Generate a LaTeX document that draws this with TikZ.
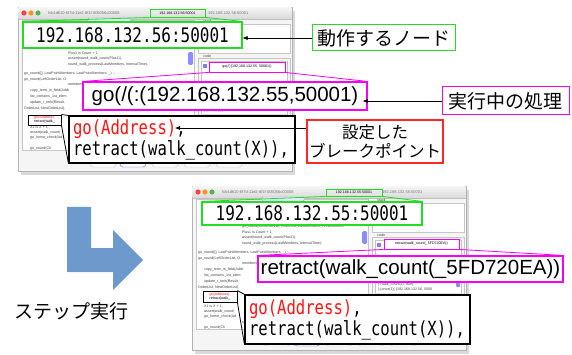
\documentclass[tikz,border=0pt]{standalone}
\usepackage{fontspec}
\usetikzlibrary{arrows.meta}
\newfontfamily\jpfont{Noto Sans CJK JP}
\newfontfamily\codefont[FakeStretch=0.8]{DejaVu Sans Mono}
\newfontfamily\guifont{Liberation Sans}
\definecolor{hlgreen}{RGB}{34,221,34}
\definecolor{hlmagenta}{RGB}{245,0,245}
\definecolor{hlred}{RGB}{255,40,40}
\definecolor{codered}{RGB}{255,20,20}
\definecolor{steparrow}{RGB}{110,153,204}

\tikzset{
  tinytitle/.style={anchor=west, inner sep=0pt, text=black!55, font=\guifont\fontsize{4}{4}\selectfont},
  tinycode/.style={anchor=west, inner sep=0pt, text=black!75, font=\guifont\fontsize{3.6}{4.2}\selectfont},
  smallhl/.style={line width=0.9pt, inner sep=0pt, font=\guifont\fontsize{3.6}{4}\selectfont},
  bigcode/.style={fill=white, line width=1.1pt, inner sep=1pt, font=\codefont\fontsize{20}{21}\selectfont},
  bigsans/.style={fill=white, draw=hlmagenta, line width=1.1pt, inner sep=1pt, font=\guifont\fontsize{20.5}{21}\selectfont},
  jplabel/.style={fill=white, line width=1pt, inner sep=1pt, font=\jpfont\fontsize{19}{22}\selectfont},
  pointer/.style={-{Latex[length=5pt,width=4pt]}, line width=0.6pt},
}

% one screen of the debugger window, #1 shift, #2 uuid, #3 address
\newcommand{\appwindow}[3]{%
\begin{scope}[shift={#1}]
  \fill[black, opacity=0.15] (3,4) rectangle (277,168);
  \draw[gray!60, fill=gray!8] (0,0) rectangle (274,164);
  \shade[top color=gray!8, bottom color=gray!30] (0.5,0.5) rectangle (273.5,12);
  \draw[gray!50] (0,12) -- (274,12);
  \fill[red!75] (6,6) circle (2.6pt);
  \fill[orange!85] (13,6) circle (2.6pt);
  \fill[green!60!black!70] (20,6) circle (2.6pt);
  \node[tinytitle] at (30,6) {#2};
  \node[tinytitle] at (190,6) {#3};
  % program list
  \draw[gray!45, fill=white] (4,13) rectangle (176,143);
  \draw[blue!40, fill=blue!8, rounded corners=1pt] (70,11) rectangle (112,15);
  \fill[blue!45, rounded corners=1.5pt] (170,45) rectangle (175,58);
  \foreach \tx/\ty/\codeline in {
      50/41/{go\_round(LeftOrderList, OrderList, LastMembers, PreviousMem},
      50/46/{Plus1 is Count + 1,},
      50/52/{assert(round\_walk\_count(Plus1)),},
      50/58/{round\_walk\_process(LastMembers, IntervalTime).},
      6/67/{go\_round([], LastPointMembers, LastPointMembers, \_) :-},
      6/73/{go\_round(LeftOrderList, O},
      50/78/{members\_list(M},
      12/84/{copy\_term\_in\_field(Addr},
      12/90/{list\_contains\_1st\_elem},
      12/96/{update\_r\_terb(Result,},
      6/102/{OrderList, NewOrderList),},
      12/120/{X1 is X + 1,},
      12/126/{assert(walk\_count(},
      12/131/{go\_home\_check(Ad},
      50/137/{sleep},
      12/142/{go\_round(Ch}}
    \node[tinycode] at (\tx,\ty) {\codeline};
  % stack and code panes
  \node[tinycode] at (185,14) {stack};
  \draw[gray!45, fill=white] (180,17) rectangle (272,46);
  \node[tinycode] at (185,49) {code};
  \draw[gray!45] (180,51) rectangle (272,118);
  \draw[gray!45, fill=white] (183,54) rectangle (269,92);
  \fill[blue!50] (185,57) rectangle (189,61);
  \draw[gray!45, fill=white] (183,94) rectangle (269,110);
  \node[tinycode] at (186,99) {|-(walk\_count(1), true),};
  \node[tinycode] at (186,104) {|-(once(1)(:(192.168.132.56, 5000};
  \fill[blue!45, rounded corners=1pt] (264,95) rectangle (268,101);
  \fill[gray!25] (183,107) rectangle (269,110);
  % buttons
  \foreach \bx in {72,102,134,166,198}
    \draw[gray!50, fill=white, rounded corners=3pt] (\bx,150) rectangle ++(26,10);
  \draw[blue!50, rounded corners=3pt] (102,150) rectangle ++(26,10);
\end{scope}}

\begin{document}
\begin{tikzpicture}[x=1pt, y=-1pt]
\useasboundingbox (0,0) rectangle (572,355);

\appwindow{(18,7)}{fcb1d610-6f7d-11e2-8f1f-005056c00008}{192.168.132.56:50001}
\appwindow{(192,186)}{fcb1d610-6f7d-11e2-8f1f-005056c00008}{192.168.132.55:50001}

% the step arrow
\fill[steparrow] (67,207) -- (91,207) -- (91,248) -- (113,248) -- (113,230)
  -- (143,260) -- (113,290) -- (113,272) -- (67,272) -- cycle;
\node[font=\jpfont\fontsize{19}{22}\selectfont] (steplbl) at (71,311) {ステップ実行};

% first screen: highlighted parts
\node[smallhl, draw=hlgreen, minimum width=55, minimum height=8] (addr1) at (177.5,13) {192.168.132.56:50001};
\node[smallhl, draw=hlmagenta, fill=white, minimum width=76, minimum height=10] (code1) at (247,67) {go(/(:(192.168.132.55, 50001))};
\node[smallhl, draw=black, fill=white, minimum width=33, minimum height=10, align=left] (brk1) at (44.5,120)
  {\textcolor{codered}{go(Address),}\\retract(walk\_};

\node[bigcode, draw=hlgreen, minimum width=219, minimum height=26] (node1) at (132.5,35) {192.168.132.56:50001};
\node[bigsans, minimum width=284, minimum height=28] (proc1) at (225,96) {go(/(:(192.168.132.55,50001)};
\node[bigcode, draw=black, minimum width=226, minimum height=47, text width=218, align=left,
  font=\codefont\fontsize{19.5}{21}\selectfont] (bp1) at (182,139.5)
  {\textcolor{codered}{go(Address)},\\retract(walk\_count(X)),};

\draw[hlgreen, line width=0.8pt] (addr1.south west) -- (node1.north west)
  (addr1.south east) -- (node1.north east);
\draw[hlmagenta, line width=0.8pt] (code1.south west) -- (proc1.north west)
  (code1.south east) -- (proc1.north east);
\draw[line width=0.8pt] (brk1.north east) -- (bp1.north west)
  (brk1.south east) -- (bp1.south west);

% second screen: highlighted parts
\node[smallhl, draw=hlgreen, minimum width=56, minimum height=7] (addr2) at (354,192.5) {192.168.132.55:50001};
\node[smallhl, draw=hlmagenta, fill=white, minimum width=75, minimum height=10] (code2) at (421.5,244) {retract(walk\_count(\_5FD720EA))};
\node[smallhl, draw=black, fill=white, minimum width=34, minimum height=11, align=left] (brk2) at (220,296.5)
  {\textcolor{codered}{go(Address),}\\retract(walk\_};

\node[bigcode, draw=hlgreen, minimum width=220, minimum height=23] (node2) at (312,213.5) {192.168.132.55:50001};
\node[bigsans, minimum width=305, minimum height=26] (proc2) at (410.5,269) {retract(walk\_count(\_5FD720EA))};
\node[bigcode, draw=black, minimum width=225, minimum height=49, text width=217, align=left,
  font=\codefont\fontsize{19.5}{21}\selectfont] (bp2) at (357.5,319.5)
  {\textcolor{codered}{go(Address)},\\retract(walk\_count(X)),};

\draw[hlgreen, line width=0.8pt] (addr2.south west) -- (node2.north west)
  (addr2.south east) -- (node2.north east);
\draw[hlmagenta, line width=0.8pt] (code2.south west) -- (proc2.north west)
  (code2.south east) -- (proc2.north east);
\draw[line width=0.8pt] (brk2.north east) -- (bp2.north west)
  (brk2.south east) -- (bp2.south west);

% labels
\node[jplabel, draw=hlgreen, minimum width=143, minimum height=26] (lblnode) at (383.5,38) {動作するノード};
\node[jplabel, draw=hlmagenta, minimum width=127, minimum height=28] (lblproc) at (505.5,101) {実行中の処理};
\node[jplabel, draw=hlred, line width=1.2pt, minimum width=136, minimum height=43, align=center,
  font=\jpfont\fontsize{16.5}{19}\selectfont] (lblbreak) at (375,141.5) {設定した\\ブレークポイント};
\coordinate (bptip) at (175,128);

\draw[pointer] (lblnode.west) -- (node1.east |- lblnode.west);
\draw[pointer, shorten >=-5pt] (lblproc.west) -- (proc1.east |- lblproc.west);
\draw[pointer] (lblbreak.west |- bptip) -- (bptip);
\end{tikzpicture}
\end{document}
